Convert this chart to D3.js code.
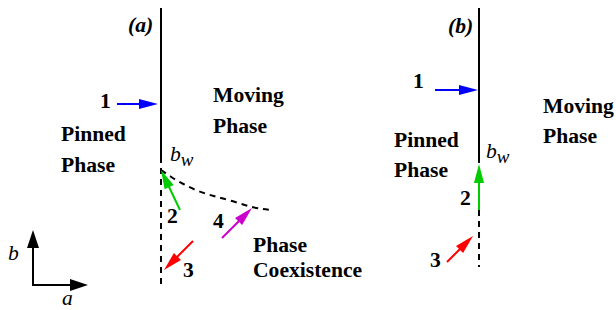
<!DOCTYPE html>
<html lang="en">
  <head>
    <meta charset="UTF-8" />
    <title>Pinned / moving phase diagram</title>
  </head>
  <body style="margin:0;background:#fff">
    <script src="https://d3js.org/d3.v7.min.js"></script>
    <script>
      const width = 616;
      const height = 310;
      const fontName = 'Liberation Serif';

      // diagram units: a = offset from the boundary line, b = height above b_w
      // panel (a)
      const solidA = [[0, 149], [0, 0]];
      const dashVertA = [[0, 0], [0, -127]];
      const dashCurveA = [[0, -13], [10, -20], [22, -27], [36, -34], [52, -39], [72, -44], [92, -51], [111, -53]];
      const arrowsA = [
        { from: [-44, 53], to: [-3, 53], color: '#0000ff' },
        { from: [19, -53], to: [0, -13], color: '#00cc00' },
        { from: [32, -84], to: [3, -113], color: '#ff0000' },
        { from: [61, -81], to: [91, -51], color: '#cc00cc' }
      ];
      const textA = [
        { t: '(a)', at: [-33, 125], style: 'bi' },
        { t: '1', at: [-61, 49], style: 'b' },
        { t: 'Moving', at: [52, 55], style: 'b' },
        { t: 'Phase', at: [52, 24], style: 'b' },
        { t: 'Pinned', at: [-100, 16], style: 'b' },
        { t: 'Phase', at: [-100, -15], style: 'b' },
        { t: '2', at: [6, -66], style: 'b' },
        { t: '3', at: [22, -120], style: 'b' },
        { t: '4', at: [52, -71], style: 'b' },
        { t: 'Phase', at: [92, -95], style: 'b' },
        { t: 'Coexistence', at: [92, -120], style: 'b' }
      ];
      const bwA = [9, -4];

      // panel (b)
      const solidB = [[0, 155], [0, 0]];
      const dashVertB = [[0, -47], [0, -104]];
      const arrowsB = [
        { from: [-44, 73], to: [-1, 73], color: '#0000ff' },
        { from: [0, -47], to: [0, -1], color: '#00cc00' },
        { from: [-32, -99], to: [-6, -73], color: '#ff0000' }
      ];
      const textB = [
        { t: '(b)', at: [-31, 130], style: 'bi' },
        { t: '1', at: [-66, 75], style: 'b' },
        { t: 'Moving', at: [64, 50], style: 'b' },
        { t: 'Phase', at: [64, 20], style: 'b' },
        { t: 'Pinned', at: [-85, 16], style: 'b' },
        { t: 'Phase', at: [-85, -14], style: 'b' },
        { t: '2', at: [-19, -42], style: 'b' },
        { t: '3', at: [-49, -104], style: 'b' }
      ];
      const bwB = [7, 5];

      // orientation key
      const keyOrigin = [-128, -128];
      const keyLen = 55;

      const svg = d3.select('body').append('svg')
        .attr('width', width).attr('height', height);

      const makePanel = (x0, y0) => ({
        x: d3.scaleLinear().domain([-100, 100]).range([x0 - 100, x0 + 100]),
        y: d3.scaleLinear().domain([-100, 100]).range([y0 + 100, y0 - 100])
      });

      const pa = makePanel(161, 157);
      const pb = makePanel(479, 163);

      const line = (p) => d3.line().x((d) => p.x(d[0])).y((d) => p.y(d[1]));
      const curve = (p) => d3.line().curve(d3.curveBasis).x((d) => p.x(d[0])).y((d) => p.y(d[1]));

      const addText = (g, x, y, s, style) => {
        const t = g.append('text').attr('x', x).attr('y', y)
          .attr('font-family', fontName).attr('font-size', 21.6)
          .text(s);
        if (style.includes('b')) t.attr('font-weight', 'bold');
        if (style.includes('i')) t.attr('font-style', 'italic');
        return t;
      };

      const arrow = (g, x1, y1, x2, y2, color, head, hw, sw) => {
        const dx = x2 - x1, dy = y2 - y1;
        const L = Math.hypot(dx, dy);
        const ux = dx / L, uy = dy / L;
        const bx = x2 - ux * head, by = y2 - uy * head;
        g.append('line')
          .attr('x1', x1).attr('y1', y1).attr('x2', bx + ux).attr('y2', by + uy)
          .attr('stroke', color).attr('stroke-width', sw);
        g.append('path')
          .attr('d', `M${x2},${y2}L${bx - uy * hw},${by + ux * hw}L${bx + uy * hw},${by - ux * hw}Z`)
          .attr('fill', color);
      };

      const drawPanel = (p, solid, dashes, arrows, texts, bw) => {
        const g = svg.append('g');
        g.append('path').attr('d', line(p)(solid))
          .attr('fill', 'none').attr('stroke', '#000').attr('stroke-width', 2);
        dashes.forEach((d) => {
          g.append('path').attr('d', (d.length > 2 ? curve(p) : line(p))(d))
            .attr('fill', 'none').attr('stroke', '#000').attr('stroke-width', 2)
            .attr('stroke-dasharray', '6,5');
        });
        arrows.forEach((a) => {
          arrow(g, p.x(a.from[0]), p.y(a.from[1]), p.x(a.to[0]), p.y(a.to[1]), a.color, 19, 5, 2);
        });
        texts.forEach((t) => addText(g, p.x(t.at[0]), p.y(t.at[1]), t.t, t.style));
        const bwt = addText(g, p.x(bw[0]), p.y(bw[1]), null, 'i');
        bwt.append('tspan').text('b');
        bwt.append('tspan').attr('dy', 5).attr('font-size', 19).text('w');
      };

      drawPanel(pa, solidA, [dashVertA, dashCurveA], arrowsA, textA, bwA);
      drawPanel(pb, solidB, [dashVertB], arrowsB, textB, bwB);

      // a-b orientation key
      const k = svg.append('g');
      const ox = pa.x(keyOrigin[0]), oy = pa.y(keyOrigin[1]);
      arrow(k, ox - 1, oy, pa.x(keyOrigin[0] + keyLen), oy, '#000', 18, 6, 2);
      arrow(k, ox, oy + 1, ox, pa.y(keyOrigin[1] + keyLen), '#000', 18, 6, 2);
      addText(k, pa.x(-153), pa.y(-103), 'b', 'i');
      addText(k, pa.x(-99), pa.y(-148), 'a', 'i');
    </script>
  </body>
</html>
